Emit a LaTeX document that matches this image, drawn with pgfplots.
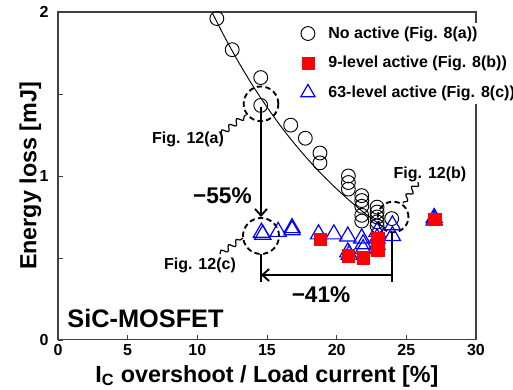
\documentclass[border=0pt]{standalone}
\usepackage{pgfplots}
\pgfplotsset{compat=1.18}
\usepackage{fontspec}
\setmainfont{Liberation Sans}
\usetikzlibrary{arrows.meta,decorations.pathmorphing}

\begin{document}
\begin{tikzpicture}
\begin{axis}[
  scale only axis, width=313.5pt, height=246pt,
  xmin=0, xmax=30, ymin=0, ymax=2,
  xtick={0,5,...,30}, ytick={0,1,2}, minor ytick={0.5,1.5},
  tick pos=left, tick align=inside,
  major tick length=4pt, minor tick length=4pt,
  axis line style={black!75, line width=0.8pt},
  tick style={black!75, line width=0.6pt},
  /pgf/number format/assume math mode=true,
  ticklabel style={font=\fontsize{12}{14}\selectfont\bfseries},
  yticklabel shift=3.5pt,
  xlabel={I\textsubscript{C} overshoot / Load current [\%]},
  ylabel={Energy loss [mJ]},
  ylabel shift=-8pt,
  label style={font=\fontsize{17.5}{20}\selectfont\bfseries},
  clip=false,
  legend style={draw=none, fill=white, at={(0.577,0.968)}, anchor=north west,
    font=\fontsize{12}{14}\selectfont\bfseries, row sep=8pt, inner sep=1pt,
    /tikz/every odd column/.append style={column sep=8pt}},
  legend cell align=left,
]
% legend entries in display order
\addlegendimage{only marks, mark=o, mark size=5.2pt, mark options={black, line width=0.7pt}}
\addlegendentry{No active (Fig. 8(a))}
\addlegendimage{only marks, mark=square*, mark size=4.6pt, red}
\addlegendentry{9-level active (Fig. 8(b))}
\addlegendimage{only marks, mark=triangle, mark size=6.2pt, blue, mark options={line width=0.9pt}}
\addlegendentry{63-level active (Fig. 8(c))}

% trend line of the no-active case
\addplot[black, line width=0.7pt, smooth, forget plot] coordinates {
 (11.1,1.990) (12,1.841) (13,1.688) (14,1.548) (15,1.420) (16,1.302)
 (17,1.194) (18,1.095) (19,1.004) (20,0.921) (21,0.844) (22,0.774)
 (23,0.710) (23.5,0.680)};

% no active
\addplot[only marks, mark=o, mark size=5.2pt, mark options={black, line width=0.7pt}, forget plot] coordinates {
 (11.4,1.96) (12.5,1.77) (14.55,1.60) (14.55,1.43) (16.7,1.31) (17.75,1.23)
 (18.8,1.14) (18.8,1.08) (20.84,1.00) (20.84,0.96) (20.84,0.92)
 (21.8,0.88) (21.8,0.85) (21.8,0.815) (21.8,0.76) (21.8,0.725)
 (22.9,0.81) (22.9,0.78) (22.9,0.75) (22.9,0.72) (22.9,0.695)
 (23.95,0.74)};

% 63-level active
\addplot[only marks, mark=triangle, mark size=7pt, blue, mark options={line width=0.9pt}, forget plot] coordinates {
 (14.6,0.655) (14.7,0.643) (15.8,0.66) (16.8,0.683) (16.8,0.67)
 (18.7,0.645) (19.8,0.645) (20.8,0.632) (21.8,0.62) (21.9,0.585)
 (21.9,0.555) (20.8,0.535) (20.9,0.52) (22.9,0.66) (22.9,0.62)
 (22.9,0.58) (24.0,0.635) (24.0,0.70) (27.0,0.745) (27.0,0.73)};

% 9-level active
\addplot[only marks, mark=square*, mark size=4.6pt, red, forget plot] coordinates {
 (18.8,0.615) (20.85,0.514) (21.9,0.502) (22.95,0.545) (22.95,0.58)
 (22.95,0.618) (27.05,0.736)};

% highlighted operating points
\draw[dashed, line width=1.4pt, dash pattern=on 4pt off 2.5pt] (axis cs:14.57,1.44) circle[radius=13pt];
\draw[dashed, line width=1.4pt, dash pattern=on 4pt off 2.5pt] (axis cs:14.57,0.634) circle[radius=13.5pt];
\draw[dashed, line width=1.4pt, dash pattern=on 4pt off 2.5pt] (axis cs:24.05,0.75) circle[radius=11.5pt];

% reduction arrows
\draw[line width=1.4pt, -{Straight Barb[length=5pt,width=9pt]}] (axis cs:14.57,1.42) -- (axis cs:14.57,0.75);
\draw[line width=1.4pt] (axis cs:14.57,0.524) -- (axis cs:14.57,0.354);
\draw[line width=1.4pt] (axis cs:24.0,0.656) -- (axis cs:24.0,0.354);
\draw[line width=1.4pt, -{Straight Barb[length=5pt,width=9pt]}] (axis cs:24.0,0.396) -- (axis cs:14.57,0.396);

% wavy leaders
\draw[line width=0.9pt, decorate, decoration={snake, amplitude=2pt, segment length=7pt}] (axis cs:11.70,1.256) -- (axis cs:13.49,1.372);
\draw[line width=0.9pt, decorate, decoration={snake, amplitude=2pt, segment length=7pt}] (axis cs:11.63,0.524) -- (axis cs:13.28,0.622);
\draw[line width=0.9pt, decorate, decoration={snake, amplitude=2pt, segment length=7pt}] (axis cs:25.84,0.963) -- (axis cs:24.76,0.835);

% labels
\node[anchor=base, font=\fontsize{12}{14}\selectfont\bfseries] at (axis cs:9.33,1.199) {Fig. 12(a)};
\node[anchor=base, font=\fontsize{12}{14}\selectfont\bfseries] at (axis cs:10.19,0.427) {Fig. 12(c)};
\node[anchor=base, font=\fontsize{12}{14}\selectfont\bfseries] at (axis cs:26.7,0.986) {Fig. 12(b)};
\node[anchor=base, font=\fontsize{17}{20}\selectfont\bfseries] at (axis cs:11.8,0.833) {−55\%};
\node[anchor=base, font=\fontsize{17}{20}\selectfont\bfseries] at (axis cs:18.88,0.226) {−41\%};
\node[anchor=base, font=\fontsize{19}{22}\selectfont\bfseries] at (axis cs:6.28,0.073) {SiC-MOSFET};

\coordinate (ll) at (axis cs:-4.163,-0.305);
\coordinate (ur) at (axis cs:32.656,2.073);
\end{axis}
\pgfresetboundingbox
\path (ll) rectangle (ur);
\end{tikzpicture}
\end{document}
